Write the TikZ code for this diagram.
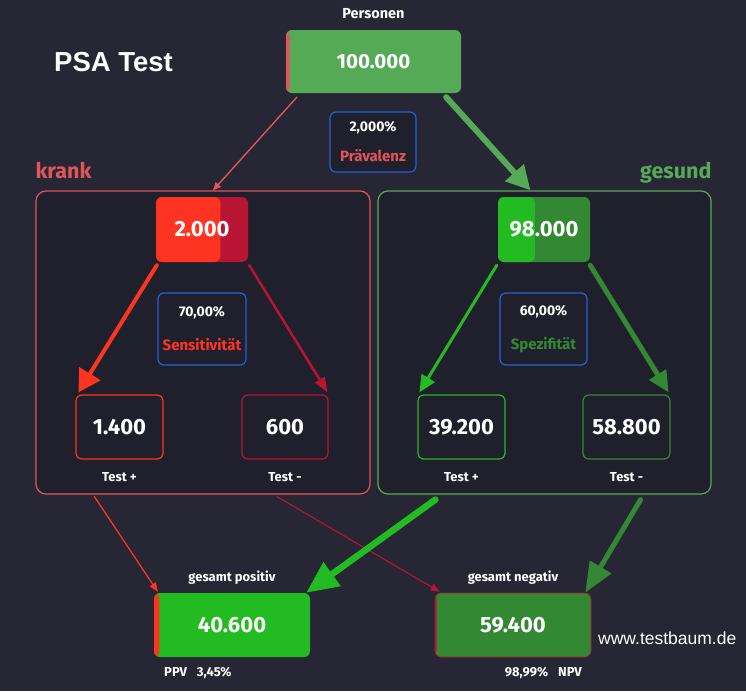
\documentclass[tikz,border=0pt]{standalone}
\usepackage{fontspec}
\setmainfont{Fira Sans}
\newfontfamily\headfont{Liberation Sans}
\usetikzlibrary{arrows.meta,positioning,calc}

\definecolor{bgdark}{HTML}{262634}
\definecolor{boxdark}{HTML}{20202C}
\definecolor{greentop}{HTML}{55AA55}
\definecolor{redsoft}{HTML}{E05558}
\definecolor{redbright}{HTML}{FF3322}
\definecolor{crimson}{HTML}{B81535}
\definecolor{greenbright}{HTML}{22BB22}
\definecolor{greendark}{HTML}{338833}
\definecolor{blueframe}{HTML}{2062DA}

\tikzset{
  splitbox/.style n args={3}{fill=#2, path picture={
      \fill[#1] (path picture bounding box.south west) rectangle
        ($(path picture bounding box.north west)!#3!(path picture bounding box.north east)$);}},
  flow/.style n args={4}{draw=#1, line width=#2, line cap=round, -{Triangle[length=#3,width=#4]}},
}

\begin{document}
\begin{tikzpicture}[
    x=1pt,y=-1pt,
    every node/.style={text=white},
    frame/.style={draw=#1,line width=1.2pt,rounded corners=10pt,fill=boxdark,minimum width=334pt,minimum height=303pt},
    count/.style={draw=#1,line width=1.2pt,rounded corners=6pt,fill=boxdark,minimum width=87pt,minimum height=64pt,font=\bfseries\fontsize{22}{24}\selectfont},
    rate/.style={draw=blueframe,line width=1.2pt,rounded corners=6pt,fill=boxdark,minimum width=87pt,minimum height=72pt,align=center,font=\bfseries\fontsize{14}{34}\selectfont},
    group/.style={rounded corners=6pt,minimum width=92pt,minimum height=65pt,font=\bfseries\fontsize{22}{24}\selectfont},
    total/.style={rounded corners=6pt,minimum width=156pt,minimum height=64pt,font=\bfseries\fontsize{22}{24}\selectfont},
    lbl/.style={inner sep=0pt,font=\bfseries\fontsize{13}{15}\selectfont},
  ]
  \fill[bgdark] (0,0) rectangle (746,691);
  \useasboundingbox (0,0) rectangle (746,691);

  % title and source
  \node[anchor=west, inner sep=0pt, font=\headfont\bfseries\fontsize{27.5}{30}\selectfont] (title) at (54,62) {PSA Test};
  \node[anchor=west, inner sep=0pt, font=\headfont\fontsize{17.5}{20}\selectfont] (source) at (598,638) {www.testbaum.de};

  % population
  \node[splitbox={redsoft}{greentop}{0.02}, rounded corners=6pt, minimum width=175pt, minimum height=63pt, font=\bfseries\fontsize{20.5}{24}\selectfont] (persons) at (373.5,61.5) {100.000};
  \node[lbl, above=10.5pt of persons, font=\bfseries\fontsize{14.5}{16}\selectfont] (personslbl) {Personen};
  \node[rate, minimum width=86pt, minimum height=60pt, font=\bfseries\fontsize{14}{30}\selectfont] (prev) at (373,142) {2,000\%\\\textcolor{redsoft}{\fontsize{15}{30}\selectfont Prävalenz}};

  % groups
  \node[frame=redsoft] (krank) at (203,342.5) {};
  \node[frame=greentop, minimum width=333pt] (gesund) at (544.5,342.5) {};
  \node[above right=11pt and 0pt of krank.north west, inner sep=0pt, text=redsoft, font=\bfseries\fontsize{21.5}{24}\selectfont] (kranklbl) {krank};
  \node[above left=7pt and 0pt of gesund.north east, inner sep=0pt, text=greentop, font=\bfseries\fontsize{21.5}{24}\selectfont] (gesundlbl) {gesund};

  \node[group, splitbox={redbright}{crimson}{0.7}] (ill) at (202,229.5) {2.000};
  \node[group, splitbox={greenbright}{greendark}{0.4}] (healthy) at (544,229.5) {98.000};
  \node[rate, minimum width=88pt] (sens) at (202,329) {70,00\%\\\textcolor{redbright}{\fontsize{15}{34}\selectfont Sensitivität}};
  \node[rate] (spez) at (543.5,329) {60,00\%\\\textcolor{greendark}{\fontsize{15}{34}\selectfont Spezifität}};

  \node[count=redbright] (truepos) at (119.5,427) {1.400};
  \node[count=crimson, minimum width=86pt] (falseneg) at (285,427) {600};
  \node[count=greenbright] (falsepos) at (461.5,427) {39.200};
  \node[count=greendark] (trueneg) at (626.5,427) {58.800};
  \node[lbl, below=13pt of truepos] (tp) {Test +};
  \node[lbl, below=13pt of falseneg] (fn) {Test -};
  \node[lbl, below=13pt of falsepos] (fp) {Test +};
  \node[lbl, below=13pt of trueneg] (tn) {Test -};

  % totals
  \node[total, splitbox={redbright}{greenbright}{0.0345}] (allpos) at (232,625) {40.600};
  \node[total, splitbox={crimson}{greendark}{0.01}, draw=crimson, line width=0.6pt] (allneg) at (513,625) {59.400};
  \node[lbl, above=8pt of allpos] (poslbl) {gesamt positiv};
  \node[lbl, above=8pt of allneg] (neglbl) {gesamt negativ};
  \node[lbl, anchor=west, font=\bfseries\fontsize{13}{15}\selectfont] (ppv) at (164,673) {PPV\hspace{10pt}3,45\%};
  \node[lbl, anchor=east, font=\bfseries\fontsize{13}{15}\selectfont] (npv) at (582,673) {98,99\%\hspace{10pt}NPV};

  % arrows
  \draw[flow={redsoft}{1.4pt}{8pt}{7pt}] ([xshift=11pt,yshift=-4pt]persons.south west) -- ([xshift=10pt]krank.north);
  \draw[flow={greentop}{6pt}{24pt}{24pt}] ([xshift=-15pt,yshift=-4pt]persons.south east) -- ([xshift=-14pt]gesund.north);

  \draw[flow={redbright}{4pt}{22pt}{24pt}] ([xshift=1pt,yshift=-3pt]ill.south west) -- ([xshift=3pt,yshift=2pt]truepos.north west);
  \draw[flow={crimson}{2.5pt}{15pt}{11pt}] ([xshift=1pt,yshift=-3pt]ill.south east) -- ([xshift=-1pt,yshift=2pt]falseneg.north east);
  \draw[flow={greenbright}{3pt}{17pt}{15pt}] ([xshift=-1pt,yshift=-3pt]healthy.south west) -- ([xshift=2pt,yshift=2pt]falsepos.north west);
  \draw[flow={greendark}{5pt}{21pt}{19pt}] ([yshift=-3pt]healthy.south east) -- ([xshift=-2pt,yshift=2pt]trueneg.north east);

  \draw[flow={redbright}{1.3pt}{9pt}{7pt}] ([xshift=59pt,yshift=-2pt]krank.south west) -- ([xshift=4pt,yshift=1pt]allpos.north west);
  \draw[flow={crimson}{1.1pt}{9pt}{7pt}] ([xshift=74pt,yshift=-2pt]krank.south) -- ([xshift=5pt,yshift=1pt]allneg.north west);
  \draw[flow={greenbright}{6.5pt}{32pt}{28pt}] ([xshift=58pt,yshift=-5pt]gesund.south west) -- ([xshift=-4pt]allpos.north east);
  \draw[flow={greendark}{5pt}{30pt}{24pt}] ([xshift=-71pt,yshift=-5pt]gesund.south east) -- ([xshift=-6pt]allneg.north east);
\end{tikzpicture}
\end{document}
